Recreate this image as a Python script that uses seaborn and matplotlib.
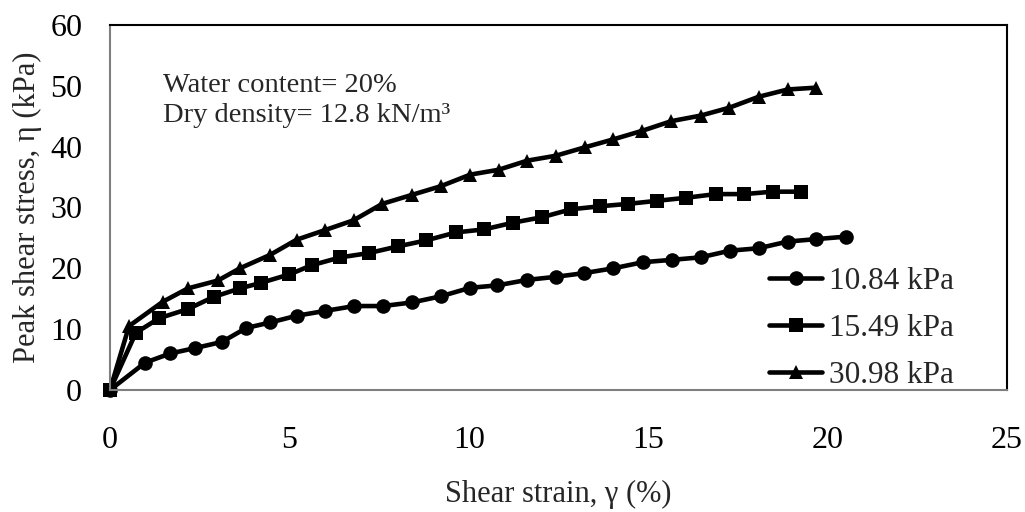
import pandas as pd
import seaborn as sns
import matplotlib.pyplot as plt

# peak shear stress vs shear strain, three normal stresses
circ_x = [0, 0.98, 1.68, 2.38, 3.12, 3.80, 4.47, 5.2, 6.0, 6.81, 7.61, 8.43, 9.22, 10.04, 10.8,
          11.63, 12.42, 13.2, 14.03, 14.85, 15.67, 16.46, 17.28, 18.08, 18.89, 19.68, 20.5]
circ_y = [0, 4.5, 6.0, 6.9, 7.9, 10.2, 11.1, 12.2, 13.0, 13.8, 13.8, 14.4, 15.4, 16.8, 17.2,
          18.1, 18.6, 19.2, 20.0, 21.0, 21.4, 21.8, 22.9, 23.3, 24.4, 24.8, 25.2]
sq_x = [0, 0.72, 1.37, 2.17, 2.89, 3.62, 4.2, 5.0, 5.62, 6.42, 7.21, 8.02, 8.82, 9.64, 10.43,
        11.23, 12.04, 12.85, 13.66, 14.45, 15.25, 16.06, 16.88, 17.68, 18.47, 19.26]
sq_y = [0, 9.4, 11.8, 13.3, 15.3, 16.7, 17.6, 19.0, 20.5, 21.8, 22.5, 23.6, 24.6, 25.9, 26.4,
        27.5, 28.4, 29.7, 30.2, 30.6, 31.1, 31.6, 32.2, 32.2, 32.6, 32.6]
tri_x = [0, 0.53, 1.47, 2.17, 3.01, 3.62, 4.46, 5.2, 6.0, 6.79, 7.59, 8.43, 9.22, 10.04, 10.83,
         11.63, 12.42, 13.24, 14.03, 14.83, 15.65, 16.46, 17.26, 18.08, 18.89, 19.68]
tri_y = [0, 10.5, 14.5, 16.7, 18.0, 20.0, 22.2, 24.7, 26.3, 27.9, 30.6, 32.1, 33.5, 35.4, 36.2,
         37.7, 38.5, 39.9, 41.2, 42.6, 44.2, 45.1, 46.4, 48.2, 49.4, 49.7]
labels = ['10.84 kPa', '15.49 kPa', '30.98 kPa']

df = pd.concat([
    pd.DataFrame({'x': circ_x, 'y': circ_y, 'load': labels[0]}),
    pd.DataFrame({'x': sq_x, 'y': sq_y, 'load': labels[1]}),
    pd.DataFrame({'x': tri_x, 'y': tri_y, 'load': labels[2]}),
])

sns.set_style('white')
plt.rcParams['font.family'] = ['Liberation Serif', 'DejaVu Serif']

fig = plt.figure(figsize=(10.25, 5.12), dpi=100)
ax = fig.add_axes([0.1073, 0.2383, 0.8751, 0.7129])

sns.lineplot(data=df, x='x', y='y', hue='load', style='load', palette=['black'] * 3,
             markers=['o', 's', '^'], dashes=False, sort=False, estimator=None,
             linewidth=3.3, markersize=10.5, markeredgewidth=0, ax=ax)
for ln in ax.lines:
    ln.set_clip_on(False)

ax.set_xlim(0, 25)
ax.set_ylim(0, 60)
ax.set_xticks([0, 5, 10, 15, 20, 25])
ax.set_yticks(range(0, 61, 10))
ax.tick_params(axis='both', direction='in', length=7, width=1, colors='#7f7f7f',
               labelcolor='black', labelsize=23)
ax.tick_params(axis='x', pad=26)
ax.tick_params(axis='y', pad=20)
for s in ['left', 'bottom']:
    ax.spines[s].set_color('#7f7f7f')
    ax.spines[s].set_linewidth(1.5)
for s in ['top', 'right']:
    ax.spines[s].set_color('black')
    ax.spines[s].set_linewidth(1.5)

ax.set_xlabel('Shear strain, γ (%)', fontsize=22, labelpad=18)
ax.set_ylabel('Peak shear stress, η (kPa)', fontsize=22, labelpad=6)

ax.text(1.48, 50.1, 'Water content= 20%', fontsize=20.5, va='center')
ax.text(1.48, 45.2, 'Dry density= 12.8 kN/m³', fontsize=20.5, va='center')

leg = ax.legend(loc='lower right', bbox_to_anchor=(0.972, -0.077), frameon=False,
                fontsize=22.5, handlelength=1.7, handletextpad=0.2, labelspacing=0.58)

fig.savefig('out.png', dpi=100)
